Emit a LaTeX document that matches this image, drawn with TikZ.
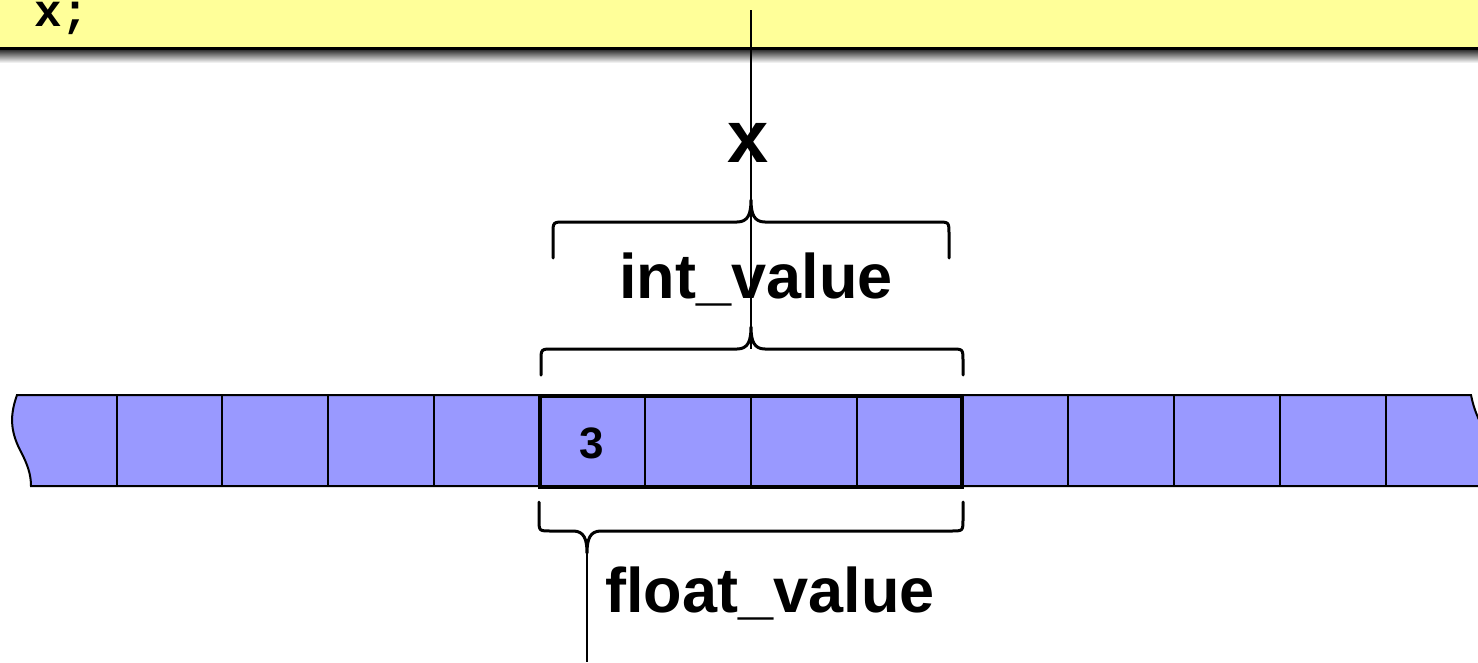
\documentclass[tikz,border=0pt]{standalone}
\usepackage{fontspec}
\setmainfont{Liberation Sans}
\newfontfamily\codefont{Liberation Mono}
\definecolor{codebg}{HTML}{FFFF99}
\definecolor{memcell}{HTML}{9999FF}
\begin{document}
\begin{tikzpicture}[x=1pt,y=-1pt,
  bracestyle/.style={line width=3pt, line cap=round, line join=round},
  cellline/.style={line width=2pt},
  bigtext/.style={font=\fontsize{63}{63}\selectfont\bfseries, inner sep=0pt, anchor=base},
  ptrline/.style={line width=1.3pt}]
\useasboundingbox (0,0) rectangle (1478,662);
\clip (0,0) rectangle (1478,662);
% code box
\fill[codebg] (0,0) rectangle (1478,47);
\fill[black] (0,47) rectangle (1478,50);
\shade[top color=black!80, bottom color=white] (0,50) rectangle (1478,63);
\node[font=\codefont\fontsize{46}{46}\selectfont\bfseries, inner sep=0pt, anchor=base west] (code) at (34,26) {x;};
% memory strip
\filldraw[fill=memcell, draw=black, cellline]
  (17,395) -- (1471,395) .. controls (1474,410) and (1478,418) .. (1484,430)
  -- (1484,486) -- (31,486)
  .. controls (31,475) and (28,465) .. (20,450)
  .. controls (10,430) and (10,415) .. (17,395) -- cycle;
\foreach \cx in {117,222,328,434,645,751,857,1068,1174,1280,1386}
  \draw[cellline] (\cx,395) -- (\cx,486);
\node[draw, line width=4pt, minimum width=422pt, minimum height=91pt, inner sep=0pt] (blk) at (751,441) {};
\node[font=\fontsize{44}{44}\selectfont\bfseries, inner sep=0pt, anchor=base] (three) at (592,458) {3};
% labels
\node[font=\fontsize{74}{74}\selectfont\bfseries, inner sep=0pt, anchor=base] (xlab) at (748,162) {x};
\node[bigtext] (intlab) at (756,298) {int\_value};
\node[bigtext] (floatlab) at (770,612) {float\_value};
% braces
\draw[bracestyle] (553,258) -- (553,234) .. controls (553,222) .. (565,222) -- (737,222)
  .. controls (748,222) and (751,214) .. (751,200)
  .. controls (751,214) and (754,222) .. (765,222) -- (937,222)
  .. controls (949,222) .. (949,234) -- (949,258);
\draw[bracestyle] (541,375) -- (541,361) .. controls (541,349) .. (553,349) -- (737,349)
  .. controls (748,349) and (751,341) .. (751,327)
  .. controls (751,341) and (754,349) .. (765,349) -- (951,349)
  .. controls (963,349) .. (963,361) -- (963,375);
\draw[bracestyle] (539,502) -- (539,519) .. controls (539,531) .. (551,531) -- (573,531)
  .. controls (584,531) and (587,539) .. (587,553)
  .. controls (587,539) and (590,531) .. (601,531) -- (951,531)
  .. controls (963,531) .. (963,519) -- (963,502);
% pointer lines
\coordinate (ptrtop) at (751,10);
\coordinate (ptrbot) at (751,349);
\coordinate (ftip) at (587,540);
\coordinate (fend) at (587,662);
\draw[ptrline] (ptrtop) -- (ptrbot);
\draw[line width=2pt] (ftip) -- (fend);
\end{tikzpicture}
\end{document}
